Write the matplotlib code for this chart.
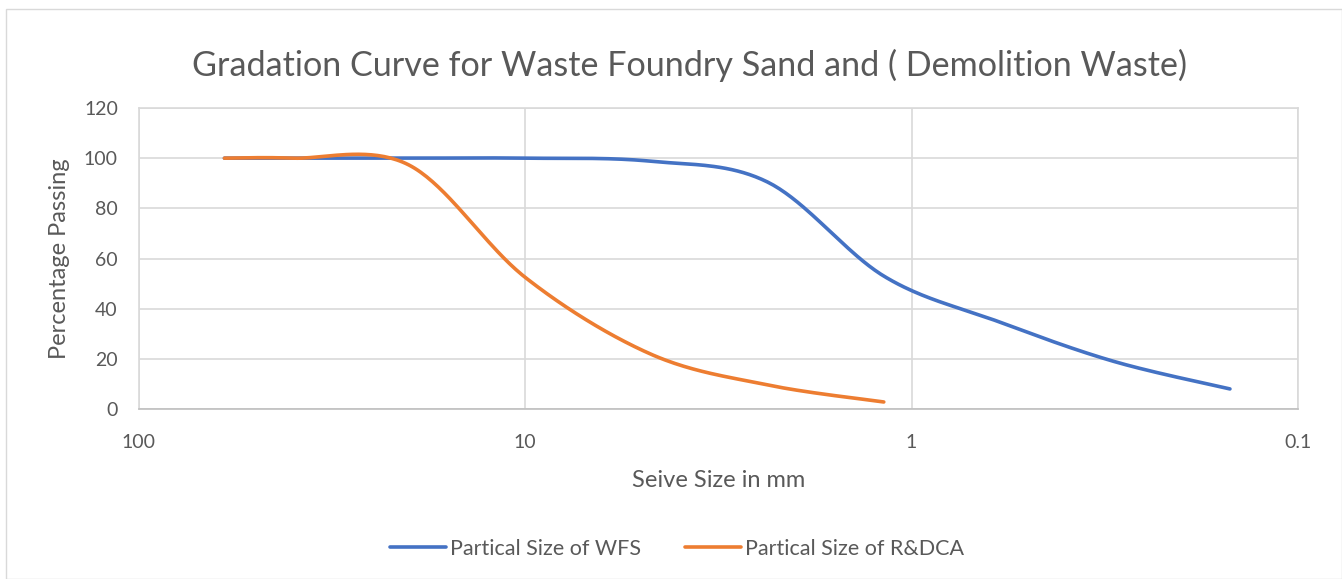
import numpy as np
import matplotlib
matplotlib.use("Agg")
import matplotlib.pyplot as plt
from matplotlib.patches import Rectangle

plt.rcParams['font.family'] = ['Lato', 'DejaVu Sans']

# Data
wfs_size = [60, 40, 20, 10, 4.75, 2.36, 1.18, 0.6, 0.3, 0.15]
wfs_pass = [100, 100, 100, 100, 98.8, 90.5, 53, 35, 19, 8]
rdca_size = [60, 40, 20, 10, 4.75, 2.36, 1.18]
rdca_pass = [100, 100, 97.3, 52.5, 22, 9.6, 2.8]
title = "Gradation Curve for Waste Foundry Sand and ( Demolition Waste)"
xlabel = "Seive Size in mm"
ylabel = "Percentage Passing"
labels = ["Partical Size of WFS", "Partical Size of R&DCA"]
colors = ["#4472C4", "#ED7D31"]


def smooth(xs, ys, n=40):
    lx = np.log10(np.asarray(xs, float))
    y = np.asarray(ys, float)
    P = np.column_stack([lx, y])
    P = np.vstack([P[0], P, P[-1]])
    out = []
    for i in range(1, len(P) - 2):
        p0, p1, p2, p3 = P[i - 1], P[i], P[i + 1], P[i + 2]
        c1 = p1 + (p2 - p0) / 6
        c2 = p2 - (p3 - p1) / 6
        t = np.linspace(0, 1, n)[:, None]
        seg = ((1 - t) ** 3) * p1 + 3 * ((1 - t) ** 2) * t * c1 + 3 * (1 - t) * t ** 2 * c2 + t ** 3 * p2
        out.append(seg if i == 1 else seg[1:])
    out = np.vstack(out)
    return 10 ** out[:, 0], out[:, 1]


fig = plt.figure(figsize=(13.42, 5.79), dpi=100)
fig.patches.append(Rectangle((6 / 1342, 0), 1 - 6 / 1342, 1 - 9 / 579, transform=fig.transFigure,
                             fill=False, edgecolor="#d9d9d9", linewidth=1.0))
ax = fig.add_axes([138.7 / 1342, 1 - 409 / 579, (1298 - 138.7) / 1342, (409 - 108) / 579])

for xs, ys, lab, c in [(wfs_size, wfs_pass, labels[0], colors[0]), (rdca_size, rdca_pass, labels[1], colors[1])]:
    sx, sy = smooth(xs, ys)
    ax.plot(sx, sy, color=c, linewidth=2.6, label=lab, solid_capstyle='round', zorder=3)

ax.set_xscale('log')
ax.set_xlim(100, 0.1)
ax.set_ylim(0, 120)
ax.set_xticks([100, 10, 1, 0.1])
ax.set_xticklabels(["100", "10", "1", "0.1"])
ax.set_yticks(range(0, 121, 20))
ax.xaxis.set_minor_locator(matplotlib.ticker.NullLocator())
ax.grid(True, color="#d9d9d9", linewidth=1.2, zorder=0)
for s in ax.spines.values():
    s.set_color("#d9d9d9")
    s.set_linewidth(1.2)
ax.spines['bottom'].set_color("#bfbfbf")
ax.tick_params(axis='both', length=0, labelsize=14, colors="#595959")
ax.tick_params(axis='y', pad=15)
ax.tick_params(axis='x', pad=18)
ax.set_xlabel(xlabel, fontsize=17, color="#595959", labelpad=14)
ax.set_ylabel(ylabel, fontsize=17, color="#595959", labelpad=10)
fig.text(690 / 1342, 1 - 65 / 579, title, fontsize=24.6, color="#595959", ha='center', va='center')
leg = fig.legend(loc='center', bbox_to_anchor=(677 / 1342, 1 - 549 / 579), ncol=2, frameon=False,
                 fontsize=15.5, handlelength=2.6, columnspacing=2.0, handletextpad=0.2)
for t in leg.get_texts():
    t.set_color("#595959")
fig.savefig("out.png", dpi=100)
